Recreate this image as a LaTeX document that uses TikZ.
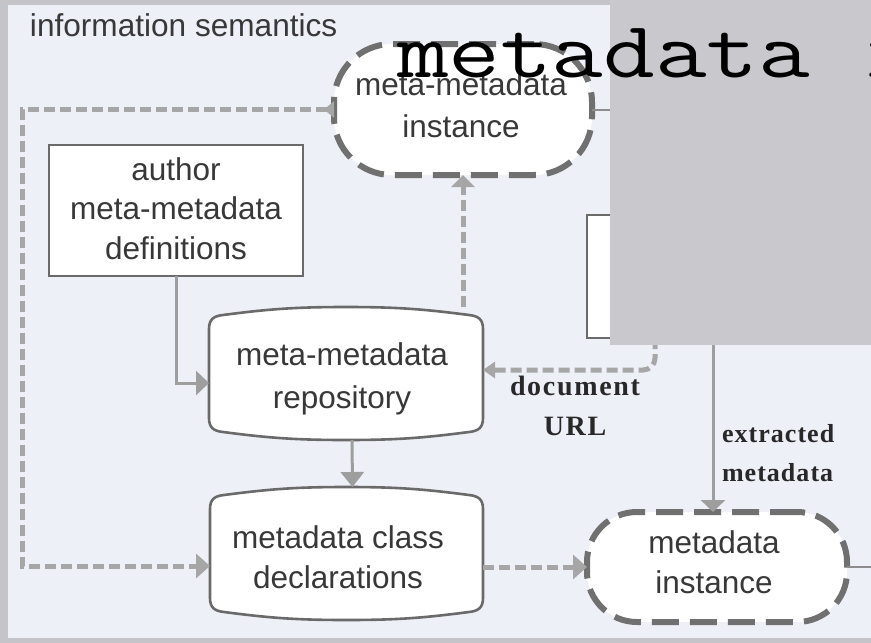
\documentclass[tikz,border=0pt]{standalone}
\usepackage{fontspec}
\setmainfont{Liberation Sans}
\newfontfamily\docfont[LetterSpace=6]{Liberation Serif}
\newfontfamily\extfont[LetterSpace=4]{Liberation Serif}
\usetikzlibrary{arrows.meta,calc}

\definecolor{outergray}{RGB}{197,197,201}
\definecolor{panelbg}{RGB}{237,240,246}
\definecolor{coverbox}{RGB}{201,200,205}
\definecolor{edgegray}{RGB}{106,106,106}
\definecolor{dashedge}{RGB}{112,112,112}
\definecolor{flowgray}{RGB}{166,166,166}
\definecolor{solidgray}{RGB}{158,158,158}
\definecolor{outgray}{RGB}{140,140,140}
\definecolor{textgray}{RGB}{56,56,56}
\definecolor{labelgray}{RGB}{40,40,40}

\tikzset{
  every node/.style={inner sep=0pt, outer sep=0pt},
  sanstext/.style={font=\fontsize{31.5pt}{#1}\selectfont, text=textgray, align=center},
  sanstext/.default=41pt,
  serifdoc/.style={font=\docfont\bfseries\fontsize{28pt}{40pt}\selectfont, text=labelgray, align=center},
  serifext/.style={font=\extfont\bfseries\fontsize{26pt}{39pt}\selectfont, text=labelgray, align=left},
  boxline/.style={draw=edgegray, line width=2.6pt, fill=white},
  instancebox/.style={draw=dashedge, line width=6pt, fill=white, dash pattern=on 27pt off 11pt},
  flowdash/.style={draw=flowgray, line width=5pt, dash pattern=on 11pt off 5pt},
  flowsolid/.style={draw=solidgray, line width=3pt},
  outline/.style={draw=outgray, line width=2pt},
  bighead/.style={-{Triangle[width=24pt,length=13pt]}},
}

% drum-like store outline with slightly bulging top and bottom
\newcommand\drumoutline[1]{%
  \draw[boxline]
    ([yshift=-22pt]#1.north west)
    .. controls ([yshift=-12pt]#1.north west) and ([xshift=5pt,yshift=-9pt]#1.north west) .. ([xshift=14pt,yshift=-8pt]#1.north west)
    .. controls ([xshift=60pt,yshift=-2pt]#1.north west) and ([xshift=-50pt]#1.north) .. (#1.north)
    .. controls ([xshift=50pt]#1.north) and ([xshift=-60pt,yshift=-2pt]#1.north east) .. ([xshift=-14pt,yshift=-8pt]#1.north east)
    .. controls ([xshift=-5pt,yshift=-9pt]#1.north east) and ([yshift=-12pt]#1.north east) .. ([yshift=-22pt]#1.north east)
    -- ([yshift=22pt]#1.south east)
    .. controls ([yshift=12pt]#1.south east) and ([xshift=-5pt,yshift=9pt]#1.south east) .. ([xshift=-14pt,yshift=8pt]#1.south east)
    .. controls ([xshift=-60pt,yshift=2pt]#1.south east) and ([xshift=50pt]#1.south) .. (#1.south)
    .. controls ([xshift=-50pt]#1.south) and ([xshift=60pt,yshift=2pt]#1.south west) .. ([xshift=14pt,yshift=8pt]#1.south west)
    .. controls ([xshift=5pt,yshift=9pt]#1.south west) and ([yshift=12pt]#1.south west) .. ([yshift=22pt]#1.south west)
    -- cycle;}

\begin{document}
\begin{tikzpicture}[x=1pt, y=-1pt]
  \useasboundingbox (0,0) rectangle (871,643);
  \clip (0,0) rectangle (871,643);

  % backdrop
  \fill[outergray] (0,0) rectangle (871,643);
  \fill[panelbg] (8,5) rectangle (871,638);

  \node[anchor=base west, text=textgray, font=\fontsize{31.6pt}{40pt}\selectfont] (title) at (30,36) {information semantics};

  % boxes
  \node[boxline, minimum width=254pt, minimum height=131pt] (author) at (176,210.5) {};
  \node[sanstext=39.5pt] (authortext) at (176,208.3) {author\\meta-metadata\\definitions};

  \node[minimum width=274pt, minimum height=133pt] (repo) at (346,373.5) {};
  \drumoutline{repo}
  \node[sanstext=43pt] (repotext) at (342,378.5) {meta-metadata\\repository};

  \node[minimum width=273pt, minimum height=133pt] (decl) at (346.5,553.5) {};
  \drumoutline{decl}
  \node[sanstext=40pt] (decltext) at (338,557) {metadata class\\declarations};

  \node[instancebox, rounded corners=58pt, minimum width=258pt, minimum height=131pt] (mminst) at (463,109.5) {};
  \node[sanstext=42pt] (mminsttext) at (461,105) {meta-metadata\\instance};

  \node[instancebox, rounded corners=50pt, minimum width=260pt, minimum height=110pt] (minst) at (717,567) {};
  \node[sanstext=40pt] (minsttext) at (714,562) {metadata\\instance};

  \node[boxline, minimum width=243pt, minimum height=123pt] (srcbox) at (708.5,276.5) {};

  % connectors
  \draw[flowsolid, bighead] (author.south) |- ([yshift=-9.5pt]repo.west);
  \draw[flowsolid, -{Triangle[width=23pt,length=15pt]}] ([xshift=6pt]repo.south) -- ([xshift=6pt]decl.north);
  \draw[flowdash, -{Triangle[width=23pt,length=12pt]}] (repo.north -| mminst.south) -- (mminst.south);
  \draw[flowdash, {Triangle[reversed,width=16pt,length=10pt]}-{Triangle[width=24pt,length=14pt]}]
    (mminst.west) -- (22,109.5) |- ([yshift=-12.5pt]decl.west);
  \draw[flowdash, -{Triangle[width=24pt,length=14pt]}] (minst.west -| decl.east) -- (minst.west);
  \draw[flowdash, rounded corners=12pt, -{Triangle[width=16pt,length=12pt]}]
    ([xshift=68pt]srcbox.south west) |- ([yshift=3.5pt]repo.east);
  \draw[flowsolid, -{Triangle[width=24pt,length=12pt]}]
    ([xshift=-4pt]minst.north |- srcbox.south) -- ([xshift=-4pt]minst.north);

  \coordinate (mmout) at (650,109.5);
  \draw[outline] (mminst.east) -- (mmout);
  \coordinate (mout) at (871,567);
  \draw[outline] (minst.east) -- (mout);

  % connector labels
  \node[serifdoc] (urllabel) at (575,406) {document\\URL};
  \node[serifext, anchor=west] (extlabel) at (722,453.6) {extracted\\metadata};

  % grey cover panel and code caption
  \fill[coverbox] (610,0) rectangle (871,345);
  \node[anchor=base west, font=\ttfamily\fontsize{80pt}{80pt}\selectfont, text=black] (codetext) at (397,77)
    {\scalebox{1.254}[1]{metadata i}};
\end{tikzpicture}
\end{document}
